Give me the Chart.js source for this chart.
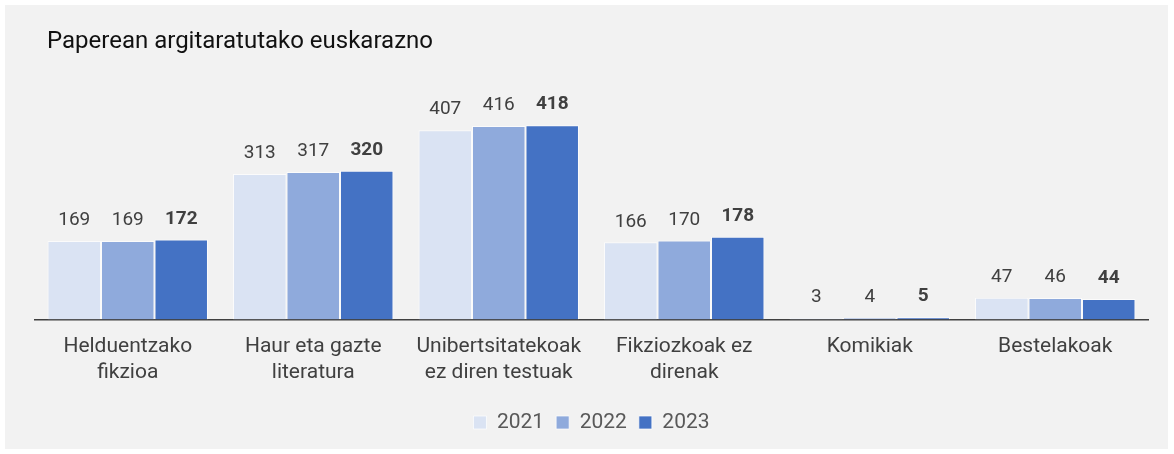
<!DOCTYPE html>
<html lang="eu">
<head>
<meta charset="UTF-8">
<title>Paperean argitaratutako euskarazno</title>
<style>
  html, body { margin: 0; padding: 0; background: #ffffff; }
  #panel {
    position: absolute; left: 5px; top: 5px; width: 1163px; height: 444px;
    background: #f2f2f2;
  }
  #wrap { position: absolute; left: 0; top: 0; width: 1174px; height: 454px; }
</style>
</head>
<body>
<div id="panel"></div>
<div id="wrap"><canvas id="chart" width="1174" height="454"></canvas></div>
<script src="https://cdn.jsdelivr.net/npm/chart.js"></script>
<script>
// Datuak
const categories = [
  ['Helduentzako', 'fikzioa'],
  ['Haur eta gazte', 'literatura'],
  ['Unibertsitatekoak', 'ez diren testuak'],
  ['Fikziozkoak ez', 'direnak'],
  'Komikiak',
  'Bestelakoak'
];
const years = ['2021', '2022', '2023'];
const values2021 = [169, 313, 407, 166, 3, 47];
const values2022 = [169, 317, 416, 170, 4, 46];
const values2023 = [172, 320, 418, 178, 5, 44];
const colors = ['#dae3f3', '#8faadc', '#4472c4'];

const chartTitle = 'Paperean argitaratutako euskarazno';

// izenburua marrazteko plugina
const titlePlugin = {
  id: 'leftTitle',
  afterDraw(chart) {
    const ctx = chart.ctx;
    ctx.save();
    ctx.font = '24px Roboto';
    ctx.fillStyle = '#111111';
    ctx.textBaseline = 'middle';
    ctx.textAlign = 'left';
    ctx.fillText(chartTitle, 47, 42);
    ctx.restore();
  }
};

// balioak barren gainean
const valueLabels = {
  id: 'valueLabels',
  afterDatasetsDraw(chart) {
    const ctx = chart.ctx;
    ctx.save();
    ctx.textAlign = 'center';
    ctx.textBaseline = 'bottom';
    ctx.fillStyle = '#404040';
    chart.data.datasets.forEach((ds, i) => {
      const meta = chart.getDatasetMeta(i);
      ctx.font = (i === 2 ? 'bold ' : '') + '19px Roboto';
      meta.data.forEach((bar, j) => {
        ctx.fillText(ds.data[j], bar.x, bar.y - 11);
      });
    });
    ctx.restore();
  }
};

const datasets = [values2021, values2022, values2023].map((vals, i) => ({
  label: years[i],
  data: vals,
  backgroundColor: colors[i],
  borderColor: 'rgba(255,255,255,0.7)',
  borderWidth: 1,
  categoryPercentage: 0.865,
  barPercentage: 1
}));

const ctx = document.getElementById('chart').getContext('2d');
new Chart(ctx, {
  type: 'bar',
  data: { labels: categories, datasets: datasets },
  plugins: [titlePlugin, valueLabels],
  options: {
    responsive: false,
    animation: false,
    layout: { padding: { left: 35, right: 26, top: 87, bottom: 11 } },
    plugins: {
      title: { display: false },
      tooltip: { enabled: false },
      legend: {
        position: 'bottom',
        labels: {
          boxWidth: 13,
          boxHeight: 13,
          padding: 12,
          color: '#595959',
          font: { family: 'Roboto', size: 21 }
        }
      }
    },
    scales: {
      x: {
        grid: { display: false, drawTicks: false },
        border: { display: true, color: '#404040', width: 1.5 },
        ticks: {
          color: '#404040',
          padding: 14,
          maxRotation: 0,
          font: { family: 'Roboto', size: 21, lineHeight: 1.25 }
        }
      },
      y: {
        display: false,
        min: 0,
        max: 500
      }
    }
  }
});
</script>
</body>
</html>
